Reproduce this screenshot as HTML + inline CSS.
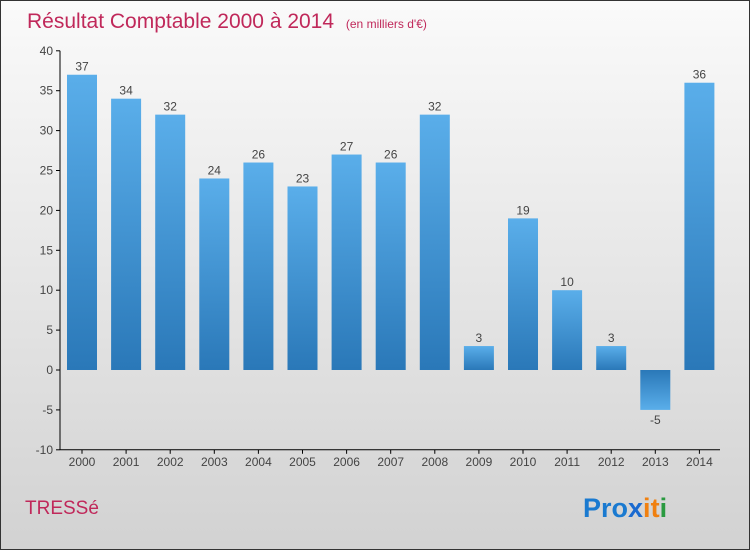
<!DOCTYPE html>
<html><head><meta charset="utf-8"><style>
body{margin:0}
#c{position:relative;width:748px;height:548px;border:1px solid #333;background:linear-gradient(#fafafa,#d2d2d2);overflow:hidden;font-family:"Liberation Sans",sans-serif}
</style></head><body>
<div id="c">
<svg width="748" height="548" id="s">
<defs><linearGradient id="g" x1="0" y1="0" x2="0" y2="1"><stop offset="0" stop-color="#5aaeea"/><stop offset="1" stop-color="#2a78b8"/></linearGradient>
<linearGradient id="gn" x1="0" y1="0" x2="0" y2="1"><stop offset="0" stop-color="#2a78b8"/><stop offset="1" stop-color="#5aaeea"/></linearGradient></defs>
<text x="26" y="27" font-size="21" fill="#c0285a">Résultat Comptable 2000 à 2014 <tspan font-size="12" dx="6">(en milliers d'€)</tspan></text>
<text x="24" y="513" font-size="19" fill="#c0285a">TRESSé</text>
<text x="582" y="516" font-size="27" font-weight="bold"><tspan fill="#1a7ad0">Pro</tspan><tspan fill="#1a6ad0">x</tspan><tspan fill="#f08010">i</tspan><tspan fill="#f08010">t</tspan><tspan fill="#2a9a40">i</tspan></text>
</svg></div>
<script>
const years=["2000","2001","2002","2003","2004","2005","2006","2007","2008","2009","2010","2011","2012","2013","2014"];
const values=[37,34,32,24,26,23,27,26,32,3,19,10,3,-5,36];
const yTicks=[40,35,30,25,20,15,10,5,0,-5,-10];
const NS="http://www.w3.org/2000/svg",s=document.getElementById('s');
const y=v=>369-(v)*7.98, x=i=>81+44.1*i;
function mk(t,a,txt){const e=document.createElementNS(NS,t);for(const k in a)e.setAttribute(k,a[k]);if(txt!=null)e.textContent=txt;s.appendChild(e);return e;}
let ax=mk('line',{x1:59,y1:y(40),x2:59,y2:y(-10),stroke:'#000'});


let xx=mk('line',{x1:59,y1:y(-10),x2:719,y2:y(-10),stroke:'#000'});


yTicks.forEach(t=>{mk('line',{x1:55,x2:59,y1:y(t),y2:y(t),stroke:'#000'});
const l=mk('text',{x:52,y:y(t)+4,'font-size':12,fill:'#444','text-anchor':'end'},t);

});
values.forEach((v,i)=>{const cx=x(i);
const r=mk('rect',{x:cx-15,width:30,y:Math.min(y(v),y(0)),height:Math.abs(y(v)-y(0)),fill:v<0?'url(#gn)':'url(#g)'});


const vl=mk('text',{x:cx,y:v<0?y(v)+14:y(v)-4,'font-size':12,fill:'#444','text-anchor':'middle'},v);


mk('line',{x1:cx,x2:cx,y1:y(-10),y2:y(-10)+4,stroke:'#000'});
const xl=mk('text',{x:cx,y:y(-10)+16,'font-size':12,fill:'#444','text-anchor':'middle'},years[i]);

});
</script>
</body></html>
